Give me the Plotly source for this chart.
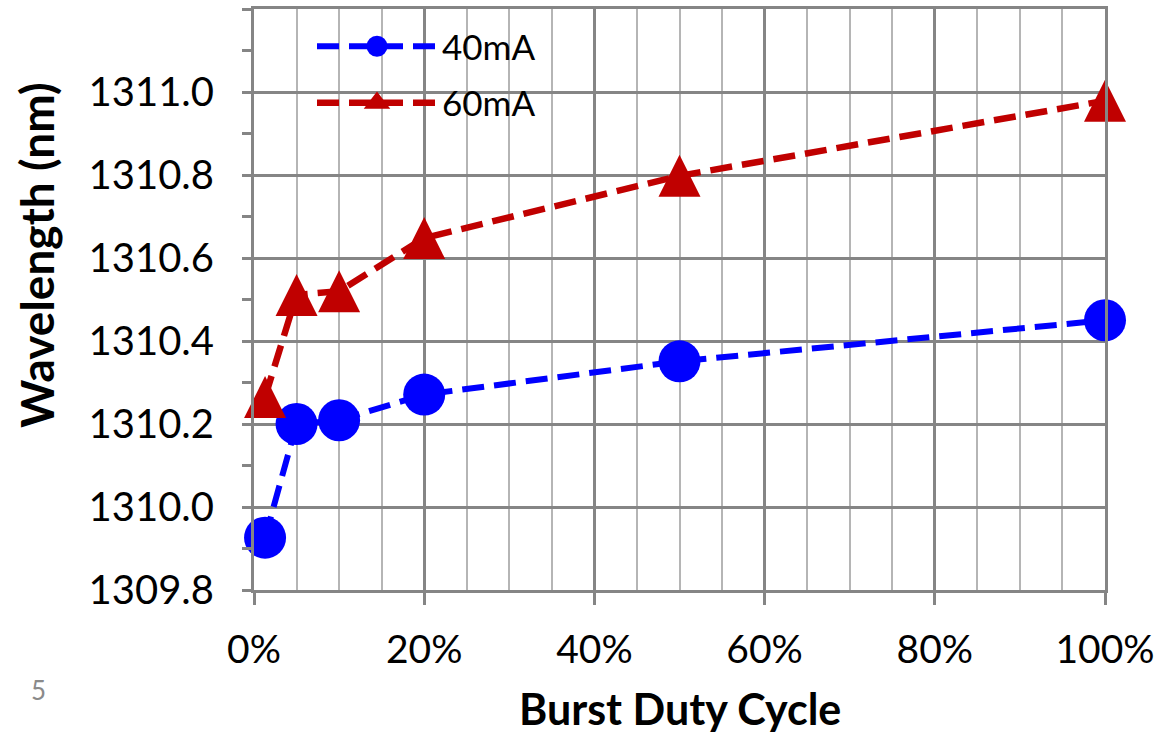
import plotly.graph_objects as go

# ---- data ----
duty_cycle = [0.013, 0.05, 0.10, 0.20, 0.50, 1.00]
wl_40mA = [1309.926, 1310.200, 1310.209, 1310.271, 1310.351, 1310.450]
wl_60mA = [1310.265, 1310.511, 1310.520, 1310.648, 1310.798, 1310.979]
series_names = ["40mA", "60mA"]
y_ticks = [1309.8, 1310.0, 1310.2, 1310.4, 1310.6, 1310.8, 1311.0]
y_ticklabels = ["1309.8", "1310.0", "1310.2", "1310.4", "1310.6", "1310.8", "1311.0"]
x_ticks = [0, 0.2, 0.4, 0.6, 0.8, 1.0]

BLUE = "#0000FF"
RED = "#C00000"
MAJOR = "#858585"
MINOR = "#B5B5B5"
FONT = "Lato"

W, H = 1158, 734
L, R, T, B = 254, 53, 9, 144
PW, PH = W - L - R, H - T - B


def px(x):
    return (x - L) / PW


def py(y):
    return (H - B - y) / PH


fig = go.Figure()

# data traces
fig.add_trace(go.Scatter(
    x=duty_cycle, y=wl_40mA, mode="lines+markers", name=series_names[0],
    line=dict(color=BLUE, width=6, dash="22px,10px"),
    marker=dict(symbol="circle", size=42, color=BLUE),
    cliponaxis=False, showlegend=False,
))
fig.add_trace(go.Scatter(
    x=duty_cycle, y=wl_60mA, mode="lines+markers", name=series_names[1],
    line=dict(color=RED, width=6.5, dash="22px,10px"),
    marker=dict(symbol="arrow-down", angle=180, standoff=21, size=42, color=RED),
    cliponaxis=False, showlegend=False,
))

# legend entries
fig.add_trace(go.Scatter(
    x=[None], y=[None], mode="lines+markers", name=series_names[0],
    line=dict(color=BLUE, width=6, dash="22px,10px"),
    marker=dict(symbol="circle", size=16, color=BLUE, line=dict(color=BLUE, width=5)),
    legendgroup="a",
))
fig.add_trace(go.Scatter(
    x=[None], y=[None], mode="lines+markers", name=series_names[1],
    line=dict(color=RED, width=6.5, dash="22px,10px"),
    marker=dict(symbol="triangle-up", size=16, color=RED, line=dict(color=RED, width=4)),
    legendgroup="b",
))

fig.update_layout(
    width=W, height=H,
    margin=dict(l=L, r=R, t=T, b=B, pad=0, autoexpand=False),
    paper_bgcolor="white", plot_bgcolor="white",
    font=dict(family=FONT, color="black"),
    showlegend=True,
    legend=dict(
        x=px(312), y=py(17), xanchor="left", yanchor="top",
        bgcolor="rgba(0,0,0,0)", borderwidth=0,
        font=dict(family=FONT, size=35, color="black"),
        itemwidth=120, tracegroupgap=8, traceorder="grouped",
    ),
    shapes=[dict(
        type="rect", xref="paper", yref="paper",
        x0=px(292), x1=px(565), y0=py(133), y1=py(23),
        fillcolor="white", line=dict(width=0), layer="between",
    )],
    annotations=[
        dict(text="<b>Wavelength (nm)</b>", textangle=-90, xref="paper", yref="paper",
             x=px(36), y=py(255), xanchor="center", yanchor="middle", showarrow=False,
             font=dict(family=FONT, size=46, color="black")),
        dict(text="<b>Burst Duty Cycle</b>", xref="paper", yref="paper",
             x=px(680), y=py(708), xanchor="center", yanchor="middle", showarrow=False,
             font=dict(family=FONT, size=43, color="black")),
        dict(text="5", xref="paper", yref="paper",
             x=px(38), y=py(690), xanchor="center", yanchor="middle", showarrow=False,
             font=dict(family=FONT, size=26, color="#8A8A8A")),
    ],
)

fig.update_xaxes(
    range=[0, 1], tickvals=x_ticks, tickformat=".0%", automargin=False,
    showgrid=True, gridcolor=MAJOR, gridwidth=2.5,
    minor=dict(dtick=0.05, showgrid=True, gridcolor=MINOR, gridwidth=2, ticks=""),
    ticks="outside", ticklen=12, tickwidth=2.5, tickcolor=MAJOR,
    showline=True, linecolor=MAJOR, linewidth=3, mirror=True,
    zeroline=False, ticklabelstandoff=11,
    tickfont=dict(family=FONT, size=39, color="black"),
)
fig.update_yaxes(
    range=[1309.8, 1311.2], tickvals=y_ticks, ticktext=y_ticklabels, automargin=False,
    showgrid=True, gridcolor=MAJOR, gridwidth=2.5,
    minor=dict(dtick=0.1, tick0=1309.8, showgrid=False, ticks="outside", ticklen=9,
               tickwidth=2.5, tickcolor=MAJOR),
    ticks="outside", ticklen=9, tickwidth=2.5, tickcolor=MAJOR,
    showline=True, linecolor=MAJOR, linewidth=3, mirror=True,
    zeroline=False, ticklabelstandoff=20,
    tickfont=dict(family=FONT, size=40, color="black"),
)

fig.write_html("out.html")
